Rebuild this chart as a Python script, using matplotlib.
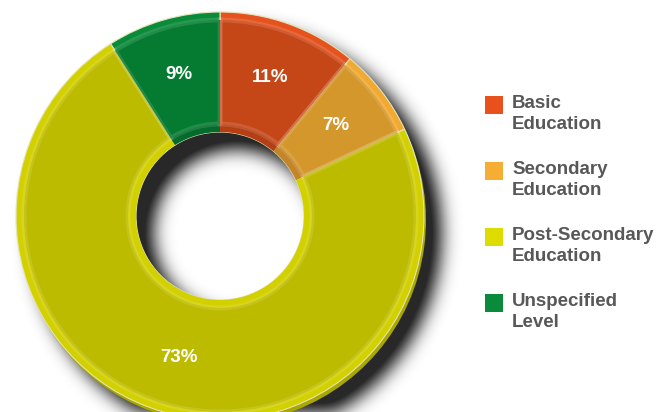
import numpy as np
import matplotlib.pyplot as plt
from matplotlib.patches import Rectangle

labels = ["Basic\nEducation", "Secondary\nEducation",
          "Post-Secondary\nEducation", "Unspecified\nLevel"]
shares = [11, 7, 73, 9]

face_colors = ["#C54718", "#D4972C", "#BDBB00", "#047B31"]
rim_colors = ["#E6521E", "#F2A930", "#D3D000", "#0A8B3A"]
side_colors = ["#A93A12", "#B47E22", "#A9A700", "#03662A"]
inner_colors = ["#B53F14", "#C38528", "#D3D000", "#036C2C"]
key_colors = ["#E8501D", "#F6AD33", "#DEDB00", "#0A8A3A"]

W, H = 664, 412
cx, cy = 220, 196          # ring centre, y measured upwards
r_out, r_in = 204, 84


def blur(img, sigma):
    k = np.arange(-3 * sigma, 3 * sigma + 1)
    k = np.exp(-k ** 2 / (2.0 * sigma ** 2))
    k /= k.sum()
    img = np.apply_along_axis(lambda v: np.convolve(v, k, mode="same"), 0, img)
    img = np.apply_along_axis(lambda v: np.convolve(v, k, mode="same"), 1, img)
    return img


fig = plt.figure(figsize=(W / 100, H / 100), dpi=100)
ax = fig.add_axes([0, 0, 1, 1])

# soft drop shadow of the ring, thrown down and to the right
yy, xx = np.mgrid[0:H, 0:W]
d = np.hypot(xx + 0.5 - (cx + 17), (H - yy - 0.5) - (cy - 17))
ring = ((d < r_out) & (d > r_in)).astype(float)
shade = np.clip(blur(ring, 9) * 1.1, 0, 0.92)
rgba = np.zeros((H, W, 4))
rgba[..., :3] = 0.08
rgba[..., 3] = shade
ax.imshow(rgba, extent=(0, W, 0, H), origin="upper", zorder=0,
          interpolation="bilinear")

# extruded side of the ring (hole kept wider so it stays hidden inside)
ax.pie(shares, colors=side_colors, radius=r_out, center=(cx + 2, cy - 4),
       startangle=90, counterclock=False,
       wedgeprops=dict(width=r_out - r_in - 6, linewidth=0))

# outer bevel
ax.pie(shares, colors=rim_colors, radius=r_out, center=(cx, cy),
       startangle=90, counterclock=False,
       wedgeprops=dict(width=r_out - r_in, linewidth=0.8,
                       edgecolor="#e4e4b8"))

# inner bevel
ax.pie(shares, colors=inner_colors, radius=r_in + 8, center=(cx, cy),
       startangle=90, counterclock=False,
       wedgeprops=dict(width=8, linewidth=0))

# top face with value labels
wedges, texts, autotexts = ax.pie(
    shares, colors=face_colors, radius=r_out - 8, center=(cx, cy),
    startangle=90, counterclock=False, autopct="%d%%", pctdistance=0.75,
    wedgeprops=dict(width=r_out - 8 - r_in - 8, linewidth=3.5,
                    edgecolor=(1, 1, 1, 0.12)),
    textprops=dict(color="white", fontsize=13.5, fontweight="bold",
                   family="Liberation Sans"))

# legend
for i, (lab, col) in enumerate(zip(labels, key_colors)):
    ytop = H - 96 - i * 66
    ax.add_patch(Rectangle((485, ytop - 18), 18, 18, facecolor=col,
                           edgecolor="none"))
    ax.text(512, ytop + 1, lab, ha="left", va="top", color="#585858",
            fontsize=13.5, fontweight="bold", family="Liberation Sans",
            linespacing=1.3)

ax.set_xlim(0, W)
ax.set_ylim(0, H)
ax.set_aspect("equal")
ax.axis("off")

fig.savefig("out.png", dpi=100)
